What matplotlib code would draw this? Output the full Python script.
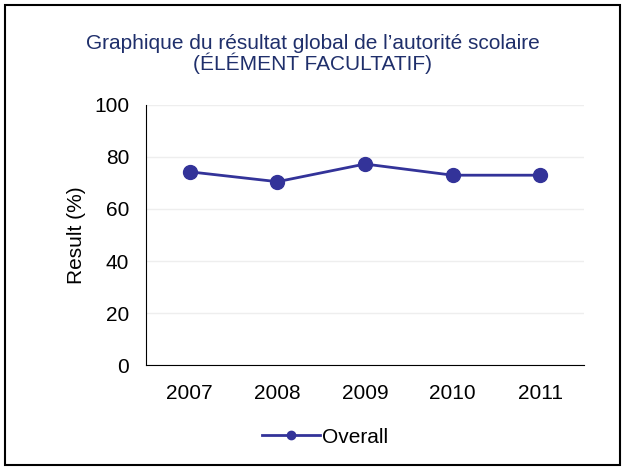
import matplotlib.pyplot as plt
from matplotlib.patches import Rectangle

plt.rcParams['font.family'] = ['Liberation Sans', 'DejaVu Sans']

years = ['2007', '2008', '2009', '2010', '2011']
overall = [74.3, 70.5, 77.3, 73.0, 73.0]

fig = plt.figure(figsize=(6.25, 4.7), dpi=100)
ax = fig.add_axes([0.2336, 0.2234, 0.7008, 0.5532])

ax.plot(range(len(years)), overall, color='#333399', linewidth=2,
        marker='o', markersize=10, label='Overall')

ax.set_xlim(-0.5, len(years) - 0.5)
ax.set_ylim(0, 100)
ax.set_yticks(range(0, 101, 20))
ax.set_xticks(range(len(years)))
ax.set_xticklabels(years)
ax.tick_params(axis='y', length=0, labelsize=15, pad=12)
ax.tick_params(axis='x', length=0, labelsize=15, pad=14)
ax.yaxis.grid(True, color='#eeeeee', linewidth=1)
ax.set_axisbelow(True)
for s in ['top', 'right']:
    ax.spines[s].set_visible(False)
ax.spines['left'].set_color('black')
ax.spines['bottom'].set_color('black')
ax.set_ylabel('Result (%)', fontsize=15, labelpad=6)

fig.text(0.5, 0.885, 'Graphique du résultat global de l\u2019autorité scolaire\n(ÉLÉMENT FACULTATIF)',
         ha='center', va='center', fontsize=15, color='#1F2F6B', linespacing=1.0)

fig.legend(loc='center', bbox_to_anchor=(0.52, 0.07), frameon=False, fontsize=15,
           handlelength=2.8, handletextpad=0.1, markerscale=0.6)

fig.patches.append(Rectangle((5 / 625, 5 / 470), 615 / 625, 460 / 470,
                             transform=fig.transFigure, fill=False,
                             edgecolor='black', linewidth=1.5))

plt.savefig('out.png')
